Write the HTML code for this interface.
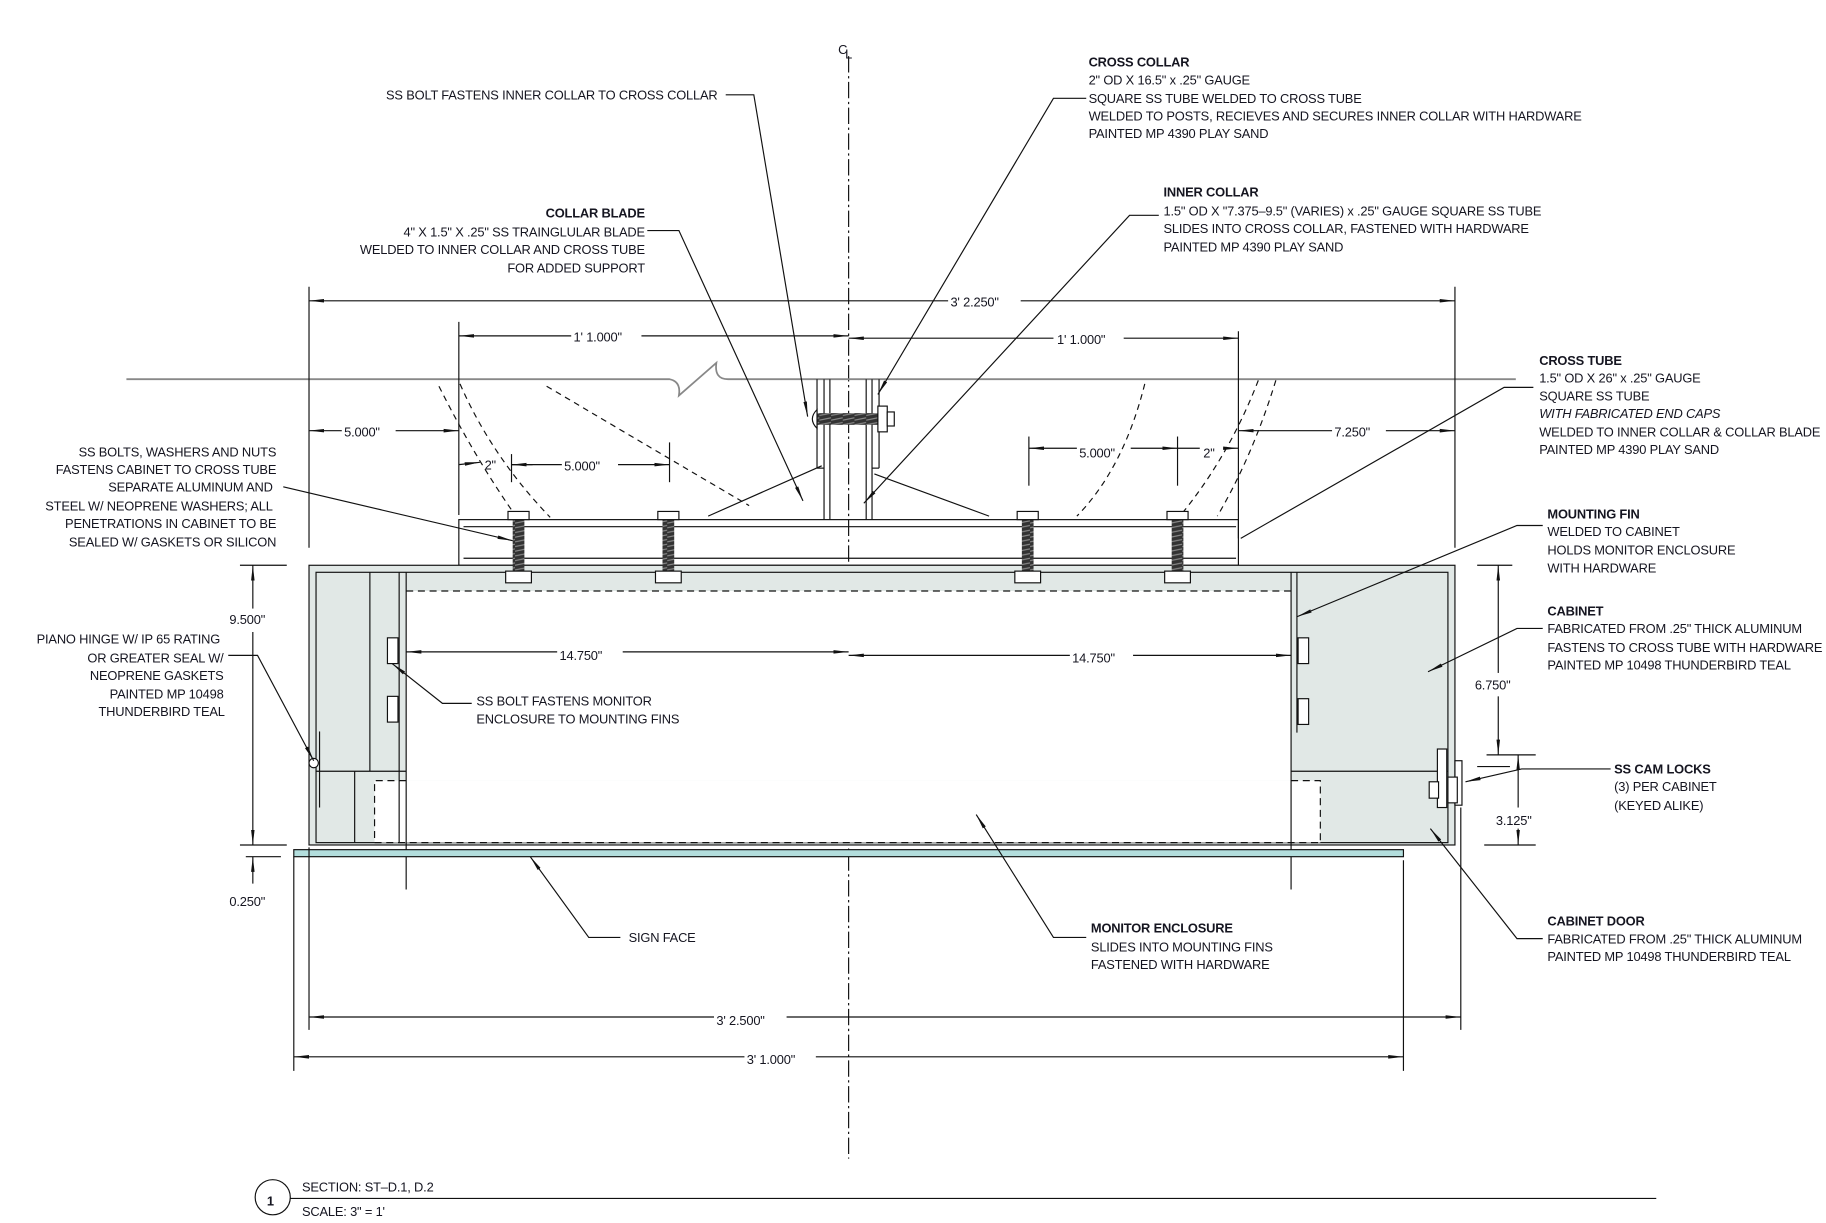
<!DOCTYPE html>
<html><head><meta charset="utf-8"><style>
html,body{margin:0;padding:0;background:#fff;}
svg{display:block;}
text{font-family:"Liberation Sans Narrow","Liberation Sans",sans-serif;font-size:11px;letter-spacing:-0.15px;fill:#151520;}
.b{font-weight:bold;}
</style></head><body>
<svg width="1826" height="1223" viewBox="0 0 1560 1045" preserveAspectRatio="none" xmlns="http://www.w3.org/2000/svg">
<defs>
<marker id="a" markerWidth="14" markerHeight="6" refX="13" refY="3" orient="auto" markerUnits="userSpaceOnUse"><path d="M0,1.5 L13,3 L0,4.5 Z" fill="#111"/></marker>
<pattern id="h" width="10" height="4" patternUnits="userSpaceOnUse"><rect width="10" height="4" fill="#333"/><line x1="0" y1="3" x2="10" y2="1" stroke="#888" stroke-width="1"/></pattern>
</defs>
<g stroke="#111" stroke-width="1" fill="none">
<line x1="725" y1="48" x2="725" y2="990" stroke-dasharray="14,3,2,3"/>
<path d="M108,324 H572 Q582,326 580,338 L612,310 Q610,324 622,324 H1295" stroke="#888" stroke-width="1.5"/>
<path d="M375,330 Q405,390 440,440" stroke-dasharray="5,4"/>
<path d="M393,328 Q420,390 470,442" stroke-dasharray="5,4"/>
<path d="M467,330 Q560,385 640,432" stroke-dasharray="5,4"/>
<path d="M978,328 Q960,400 920,441" stroke-dasharray="5,4"/>
<path d="M1075,325 Q1050,390 1008,441" stroke-dasharray="5,4"/>
<path d="M1090,325 Q1070,390 1040,441" stroke-dasharray="5,4"/>
<line x1="264" y1="245" x2="264" y2="468"/>
<line x1="1243" y1="245" x2="1243" y2="468"/>
<line x1="392" y1="275" x2="392" y2="440"/>
<line x1="1058" y1="283" x2="1058" y2="460"/>
<line x1="437" y1="388" x2="437" y2="412"/>
<line x1="572" y1="378" x2="572" y2="412"/>
<line x1="879" y1="373" x2="879" y2="415"/>
<line x1="1006" y1="373" x2="1006" y2="415"/>
<line x1="810" y1="257" x2="264" y2="257" marker-end="url(#a)"/>
<line x1="872" y1="257" x2="1243" y2="257" marker-end="url(#a)"/>
<line x1="488" y1="287" x2="392" y2="287" marker-end="url(#a)"/>
<line x1="548" y1="287" x2="725" y2="287" marker-end="url(#a)"/>
<line x1="900" y1="289" x2="725" y2="289" marker-end="url(#a)"/>
<line x1="960" y1="289" x2="1058" y2="289" marker-end="url(#a)"/>
<line x1="292" y1="368" x2="264" y2="368" marker-end="url(#a)"/>
<line x1="338" y1="368" x2="392" y2="368" marker-end="url(#a)"/>
<line x1="1138" y1="368" x2="1058" y2="368" marker-end="url(#a)"/>
<line x1="1184" y1="368" x2="1243" y2="368" marker-end="url(#a)"/>
<line x1="392" y1="397" x2="410" y2="395" marker-end="url(#a)"/>
<line x1="437" y1="397" x2="455" y2="397"/>
<line x1="480" y1="397" x2="437" y2="397" marker-end="url(#a)"/>
<line x1="528" y1="397" x2="572" y2="397" marker-end="url(#a)"/>
<line x1="920" y1="383" x2="879" y2="383" marker-end="url(#a)"/>
<line x1="966" y1="383" x2="1006" y2="383" marker-end="url(#a)"/>
<line x1="1006" y1="383" x2="1025" y2="383"/>
<line x1="1045" y1="383" x2="1058" y2="383" marker-end="url(#a)"/>
<line x1="698" y1="324" x2="698" y2="400"/><line x1="751" y1="324" x2="751" y2="400"/>
<line x1="698" y1="400" x2="704" y2="400"/><line x1="745" y1="400" x2="751" y2="400"/>
<line x1="704" y1="324" x2="704" y2="444"/><line x1="709" y1="324" x2="709" y2="444"/>
<line x1="740" y1="324" x2="740" y2="444"/><line x1="745" y1="324" x2="745" y2="444"/>
<line x1="605" y1="441" x2="702" y2="398"/>
<line x1="747" y1="405" x2="845" y2="441"/>
<rect x="392" y="444" width="666" height="39"/>
<line x1="396" y1="450" x2="1056" y2="450"/>
<line x1="396" y1="477" x2="1056" y2="477"/>
</g>
<rect x="698" y="353" width="52" height="10" fill="url(#h)"/>
<g stroke="#111" fill="#fff"><rect x="750" y="347" width="8" height="22"/><rect x="758" y="352" width="6" height="12"/><path d="M698,350 Q690,358 698,366 Z"/></g>
<rect x="264" y="483" width="979" height="239" fill="#e1e8e6" stroke="#111"/>
<rect x="270" y="489" width="967" height="231" fill="none" stroke="#111"/>
<rect x="347" y="505" width="756" height="162" fill="#fff"/>
<rect x="320" y="667" width="808" height="53" fill="#fff"/>
<g stroke="#111" fill="none">
<line x1="316" y1="489" x2="316" y2="659"/>
<line x1="270" y1="659" x2="347" y2="659"/>
<line x1="1103" y1="659" x2="1237" y2="659"/>
<line x1="303" y1="659" x2="303" y2="720"/>
<line x1="341" y1="489" x2="341" y2="720"/><line x1="347" y1="489" x2="347" y2="760"/>
<line x1="1103" y1="489" x2="1103" y2="760"/><line x1="1108" y1="489" x2="1108" y2="626"/>
<path d="M347,505 H1103" stroke-dasharray="6,4"/>
<path d="M347,667 H320 V720 H1128 V667 H1103" stroke-dasharray="6,4"/>
<rect x="1228" y="640" width="8" height="50" fill="#fff"/>
<rect x="1243" y="650" width="6" height="38" fill="#fff"/>
<rect x="1221" y="668" width="8" height="14" fill="#fff"/>
<rect x="1237" y="664" width="8" height="22" fill="#fff"/>
<line x1="273" y1="625" x2="273" y2="690"/>
<circle cx="268" cy="652" r="4" fill="#fff"/>
</g>
<g stroke="#111" fill="#fff">
<rect x="331" y="545" width="9" height="22"/><rect x="331" y="595" width="9" height="22"/>
<rect x="1109" y="545" width="9" height="22"/><rect x="1109" y="597" width="9" height="22"/>
</g>
<rect x="251" y="726" width="948" height="6" fill="#b3dedd" stroke="#111"/>
<g>
<rect x="438" y="440" width="10" height="52" fill="url(#h)"/><rect x="566" y="440" width="10" height="52" fill="url(#h)"/>
<rect x="873" y="440" width="10" height="52" fill="url(#h)"/><rect x="1001" y="440" width="10" height="52" fill="url(#h)"/>
</g>
<g stroke="#111" fill="#fff">
<rect x="434" y="437" width="18" height="7"/><rect x="562" y="437" width="18" height="7"/>
<rect x="869" y="437" width="18" height="7"/><rect x="997" y="437" width="18" height="7"/>
<rect x="432" y="488" width="22" height="10"/><rect x="560" y="488" width="22" height="10"/>
<rect x="867" y="488" width="22" height="10"/><rect x="995" y="488" width="22" height="10"/>
</g>
<g stroke="#111" fill="none">
<line x1="251" y1="732" x2="251" y2="915"/>
<line x1="1199" y1="735" x2="1199" y2="915"/>
<line x1="264" y1="724" x2="264" y2="880"/>
<line x1="1248" y1="690" x2="1248" y2="880"/>
<line x1="476" y1="557" x2="347" y2="557" marker-end="url(#a)"/>
<line x1="532" y1="557" x2="725" y2="557" marker-end="url(#a)"/>
<line x1="914" y1="560" x2="725" y2="560" marker-end="url(#a)"/>
<line x1="968" y1="560" x2="1103" y2="560" marker-end="url(#a)"/>
<line x1="205" y1="483" x2="245" y2="483"/>
<line x1="205" y1="722" x2="245" y2="722"/>
<line x1="210" y1="732" x2="240" y2="732"/>
<line x1="216" y1="520" x2="216" y2="483" marker-end="url(#a)"/>
<line x1="216" y1="540" x2="216" y2="722" marker-end="url(#a)"/>
<line x1="216" y1="755" x2="216" y2="732" marker-end="url(#a)"/>
<line x1="1262" y1="483" x2="1292" y2="483"/>
<line x1="1270" y1="645" x2="1312" y2="645"/>
<line x1="1262" y1="655" x2="1290" y2="655"/>
<line x1="1268" y1="722" x2="1312" y2="722"/>
<line x1="1280" y1="575" x2="1280" y2="483" marker-end="url(#a)"/>
<line x1="1280" y1="595" x2="1280" y2="645" marker-end="url(#a)"/>
<line x1="1297" y1="690" x2="1297" y2="645" marker-end="url(#a)"/>
<line x1="1297" y1="708" x2="1297" y2="722" marker-end="url(#a)"/>
<line x1="610" y1="869" x2="264" y2="869" marker-end="url(#a)"/>
<line x1="672" y1="869" x2="1248" y2="869" marker-end="url(#a)"/>
<line x1="636" y1="903" x2="251" y2="903" marker-end="url(#a)"/>
<line x1="697" y1="903" x2="1199" y2="903" marker-end="url(#a)"/>
<path d="M620,81 H644 L690,356" marker-end="url(#a)"/>
<path d="M928,84 H900 L750,337" marker-end="url(#a)"/>
<path d="M553,197 H580 L686,428" marker-end="url(#a)"/>
<path d="M990,184 H965 L738,430" marker-end="url(#a)"/>
<path d="M1310,331 H1285 L1060,460"/>
<path d="M242,416 L438,462" marker-end="url(#a)"/>
<path d="M1318,449 H1296 L1108,527" marker-end="url(#a)"/>
<path d="M1318,537 H1296 L1220,574" marker-end="url(#a)"/>
<path d="M1376,657 H1300 L1252,668" marker-end="url(#a)"/>
<path d="M1318,802 H1296 L1222,708" marker-end="url(#a)"/>
<path d="M928,801 H900 L834,696" marker-end="url(#a)"/>
<path d="M530,801 H503 L453,732" marker-end="url(#a)"/>
<path d="M403,601 H378 L335,567" marker-end="url(#a)"/>
<path d="M195,560 H220 L268,650" marker-end="url(#a)"/>
<circle cx="233" cy="1023" r="15"/>
<line x1="248" y1="1024" x2="1415" y2="1024"/>
</g>
<text x="716" y="46" font-size="12">C</text><text x="722" y="50" font-size="9">L</text>
<g font-size="12">
<text x="812" y="262">3' 2.250"</text>
<text x="490" y="292">1' 1.000"</text>
<text x="903" y="294">1' 1.000"</text>
<text x="294" y="373">5.000"</text>
<text x="1140" y="373">7.250"</text>
<text x="414" y="401">2"</text>
<text x="482" y="402">5.000"</text>
<text x="922" y="391">5.000"</text>
<text x="1028" y="391">2"</text>
<text x="478" y="564">14.750"</text>
<text x="916" y="566">14.750"</text>
<text x="196" y="533">9.500"</text>
<text x="196" y="774">0.250"</text>
<text x="1260" y="589">6.750"</text>
<text x="1278" y="705">3.125"</text>
<text x="612" y="876">3' 2.500"</text>
<text x="638" y="909">3' 1.000"</text>
</g>
<text x="613" y="85" text-anchor="end">SS BOLT FASTENS INNER COLLAR TO CROSS COLLAR</text>
<text x="930" y="57" class="b">CROSS COLLAR</text>
<text x="930" y="72">2" OD X 16.5" x .25" GAUGE</text>
<text x="930" y="88">SQUARE SS TUBE WELDED TO CROSS TUBE</text>
<text x="930" y="103">WELDED TO POSTS, RECIEVES AND SECURES INNER COLLAR WITH HARDWARE</text>
<text x="930" y="118">PAINTED MP 4390 PLAY SAND</text>
<text x="994" y="168" class="b">INNER COLLAR</text>
<text x="994" y="184">1.5" OD X "7.375–9.5" (VARIES) x .25" GAUGE SQUARE SS TUBE</text>
<text x="994" y="199">SLIDES INTO CROSS COLLAR, FASTENED WITH HARDWARE</text>
<text x="994" y="215">PAINTED MP 4390 PLAY SAND</text>
<g text-anchor="end">
<text x="551" y="186" class="b">COLLAR BLADE</text>
<text x="551" y="202">4" X 1.5" X .25" SS TRAINGLULAR BLADE</text>
<text x="551" y="217">WELDED TO INNER COLLAR AND CROSS TUBE</text>
<text x="551" y="233">FOR ADDED SUPPORT</text>
<text x="236" y="390">SS BOLTS, WASHERS  AND NUTS</text>
<text x="236" y="405">FASTENS CABINET TO CROSS TUBE</text>
<text x="233" y="420">SEPARATE  ALUMINUM AND</text>
<text x="233" y="436">STEEL W/ NEOPRENE WASHERS; ALL</text>
<text x="236" y="451">PENETRATIONS IN CABINET TO BE</text>
<text x="236" y="467">SEALED W/ GASKETS OR SILICON</text>
<text x="188" y="550">PIANO HINGE W/ IP 65 RATING</text>
<text x="191" y="566">OR GREATER SEAL W/</text>
<text x="191" y="581">NEOPRENE GASKETS</text>
<text x="191" y="597">PAINTED MP 10498</text>
<text x="192" y="612">THUNDERBIRD TEAL</text>
</g>
<text x="1315" y="312" class="b">CROSS TUBE</text>
<text x="1315" y="327">1.5" OD X 26" x .25" GAUGE</text>
<text x="1315" y="342">SQUARE SS TUBE</text>
<text x="1315" y="357" font-style="italic">WITH FABRICATED END CAPS</text>
<text x="1315" y="373">WELDED TO INNER COLLAR &amp; COLLAR BLADE</text>
<text x="1315" y="388">PAINTED MP 4390 PLAY SAND</text>
<text x="1322" y="443" class="b">MOUNTING FIN</text>
<text x="1322" y="458">WELDED TO CABINET</text>
<text x="1322" y="474">HOLDS MONITOR ENCLOSURE</text>
<text x="1322" y="489">WITH HARDWARE</text>
<text x="1322" y="526" class="b">CABINET</text>
<text x="1322" y="541">FABRICATED FROM .25" THICK ALUMINUM</text>
<text x="1322" y="557">FASTENS TO CROSS TUBE WITH HARDWARE</text>
<text x="1322" y="572">PAINTED MP 10498 THUNDERBIRD TEAL</text>
<text x="1379" y="661" class="b">SS CAM LOCKS</text>
<text x="1379" y="676">(3) PER CABINET</text>
<text x="1379" y="692">(KEYED ALIKE)</text>
<text x="1322" y="791" class="b">CABINET DOOR</text>
<text x="1322" y="806">FABRICATED FROM .25" THICK ALUMINUM</text>
<text x="1322" y="821">PAINTED MP 10498 THUNDERBIRD TEAL</text>
<text x="407" y="603">SS BOLT FASTENS MONITOR</text>
<text x="407" y="618">ENCLOSURE TO MOUNTING FINS</text>
<text x="932" y="797" class="b">MONITOR ENCLOSURE</text>
<text x="932" y="813">SLIDES INTO MOUNTING FINS</text>
<text x="932" y="828">FASTENED WITH HARDWARE</text>
<text x="537" y="805">SIGN FACE</text>
<text x="228" y="1030" font-size="15" class="b">1</text>
<text x="258" y="1018" font-size="12">SECTION: ST–D.1, D.2</text>
<text x="258" y="1039" font-size="12">SCALE: 3" = 1'</text>
</svg>
</body></html>
